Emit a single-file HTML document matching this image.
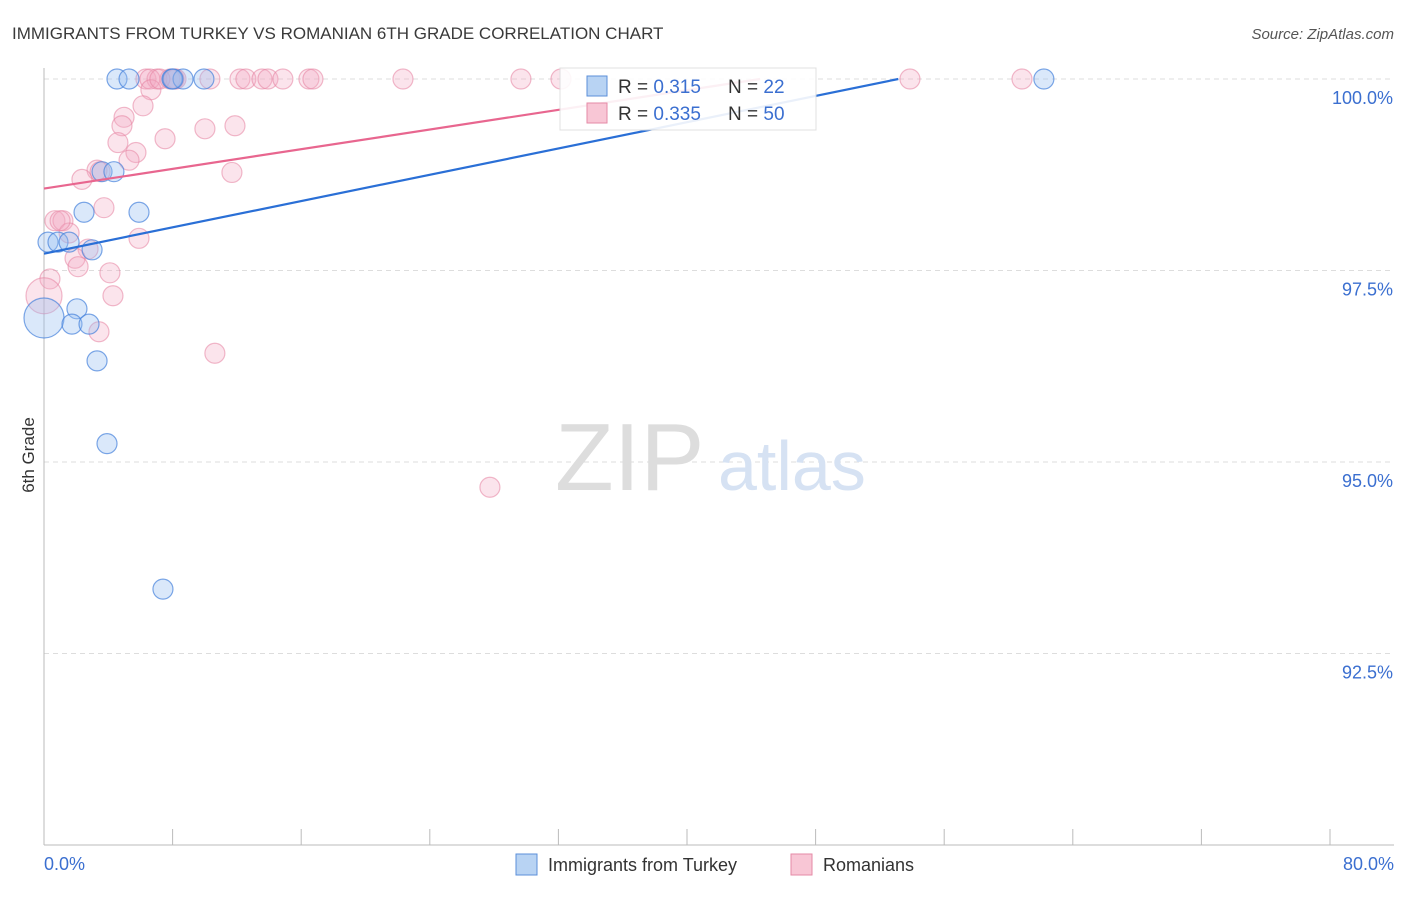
<!DOCTYPE html>
<html><head><meta charset="utf-8"><style>
body{margin:0;background:#fff;font-family:"Liberation Sans",sans-serif;}
svg text{font-family:"Liberation Sans",sans-serif;}
</style></head><body>
<svg id="chart" width="1406" height="892">
<text x="12" y="39" font-size="17" fill="#3a3a3a">IMMIGRANTS FROM TURKEY VS ROMANIAN 6TH GRADE CORRELATION CHART</text>
<text x="1394" y="39" font-size="15" fill="#555" font-style="italic" text-anchor="end">Source: ZipAtlas.com</text>
<g id="grid"></g>
<text x="34" y="455" font-size="17" fill="#333" transform="rotate(-90 34 455)" text-anchor="middle">6th Grade</text>
<text x="555" y="490" font-size="96" fill="#ddd" font-family="Liberation Serif">ZIP</text>
<text x="718" y="490" font-size="70" fill="#d6e2f3">atlas</text>
<g id="axes"></g>
<g id="pts"></g>
<g id="lines"></g>
<g>
<rect x="560" y="68" width="256" height="62" fill="#fff" stroke="#ddd" opacity="0.9"/>
<rect x="587" y="76" width="20" height="20" fill="#b8d3f3" stroke="#5b8fd9"/>
<rect x="587" y="103" width="20" height="20" fill="#f8c6d5" stroke="#e58aa6"/>
<text x="618" y="93" font-size="19" fill="#333">R = <tspan fill="#3b6fd0">0.315</tspan></text>
<text x="728" y="93" font-size="19" fill="#333">N = <tspan fill="#3b6fd0">22</tspan></text>
<text x="618" y="120" font-size="19" fill="#333">R = <tspan fill="#3b6fd0">0.335</tspan></text>
<text x="728" y="120" font-size="19" fill="#333">N = <tspan fill="#3b6fd0">50</tspan></text>
</g>
<g>
<rect x="516" y="854" width="21" height="21" fill="#b8d3f3" stroke="#5b8fd9"/>
<text x="548" y="871" font-size="18" fill="#333">Immigrants from Turkey</text>
<rect x="791" y="854" width="21" height="21" fill="#f8c6d5" stroke="#e58aa6"/>
<text x="823" y="871" font-size="18" fill="#333">Romanians</text>
</g>
</svg>
<script>
const yTicks=[100,97.5,95,92.5];
const yTickLabels=["100.0%","97.5%","95.0%","92.5%"];
const xLabels=["0.0%","80.0%"];
const blueX=[4.54,5.29,7.96,8.65,9.95,62.2,3.61,4.35,2.49,5.91,0.25,0.87,1.56,2.99,0,2.05,1.74,2.80,3.30,3.92,7.40,8.02];
const blueY=[100,100,100,100,100,100,98.79,98.79,98.26,98.26,97.87,97.87,97.87,97.77,96.88,97.0,96.80,96.80,96.32,95.24,93.34,100];
const pinkX=[6.34,7.03,7.84,8.21,10.32,12.19,12.56,13.56,13.93,14.86,16.48,16.73,22.33,29.67,32.16,53.87,60.84,6.59,8.09,
6.65,6.16,4.98,4.85,4.6,10.01,11.88,7.53,5.72,5.29,3.3,2.36,11.69,3.73,0.68,1.18,1.56,2.74,1.93,2.12,4.1,4.29,5.91,0.37,0,3.42,10.63,27.74,3.49,7.21,1.0];
const pinkY=[100,100,100,100,100,100,100,100,100,100,100,100,100,100,100,100,100,100,100,
99.86,99.65,99.50,99.39,99.17,99.35,99.39,99.22,99.04,98.94,98.81,98.69,98.78,98.32,98.15,98.15,97.99,97.78,97.66,97.55,97.47,97.17,97.92,97.39,97.17,96.70,96.42,94.67,98.79,100,98.15];
const pinkR=[];for(let i=0;i<pinkX.length;i++)pinkR.push(i===43?18:10);
const blueR=[];for(let i=0;i<blueX.length;i++)blueR.push(i===14?20:10);
const blueFit=[97.72,0.0429];
const pinkFit=[98.57,0.0321];
const sx=v=>44+v/80*1286, sy=v=>79+(100-v)*76.6;
const NS="http://www.w3.org/2000/svg";
function mk(t,a,p){const e=document.createElementNS(NS,t);for(const k in a)e.setAttribute(k,a[k]);p.appendChild(e);return e;}
const grid=document.getElementById('grid'),axes=document.getElementById('axes'),pts=document.getElementById('pts'),lines=document.getElementById('lines');
yTicks.forEach((v,i)=>{
 const l=mk('line',{x1:44,x2:1394,y1:sy(v),y2:sy(v),stroke:'#ddd','stroke-dasharray':'5,4'},grid);
 
 
 const t=mk('text',{x:1393,y:sy(v)+25,'font-size':18,fill:'#3b6fd0','text-anchor':'end'},axes);
 t.textContent=yTickLabels[i];
 
 
});
const ya=mk('line',{x1:44,x2:44,y1:68,y2:845,stroke:'#bbb'},axes);


const xa=mk('line',{x1:44,x2:1394,y1:845,y2:845,stroke:'#bbb'},axes);


for(let i=0;i<=10;i++){
 const t=mk('line',{x1:sx(i*8),x2:sx(i*8),y1:829,y2:845,stroke:'#bbb'},axes);
 
 
}
const xl0=mk('text',{x:44,y:870,'font-size':18,fill:'#3b6fd0'},axes);xl0.textContent=xLabels[0];


const xl1=mk('text',{x:1394,y:870,'font-size':18,fill:'#3b6fd0','text-anchor':'end'},axes);xl1.textContent=xLabels[1];


pinkX.forEach((x,i)=>{
 const c=mk('circle',{cx:sx(x),cy:sy(pinkY[i]),r:pinkR[i],fill:'rgba(244,170,195,0.32)',stroke:'rgba(230,130,160,0.55)','stroke-width':1.2},pts);
 
 
});
blueX.forEach((x,i)=>{
 const c=mk('circle',{cx:sx(x),cy:sy(blueY[i]),r:blueR[i],fill:'rgba(150,190,240,0.35)',stroke:'rgba(70,130,220,0.7)','stroke-width':1.2},pts);
 
 
});
function fitLine(f,col,name){
 const xe=Math.min(80,(100-f[0])/f[1]);
 const l=mk('line',{x1:sx(0),y1:sy(f[0]),x2:sx(xe),y2:sy(f[0]+f[1]*xe),stroke:col,'stroke-width':2.2},lines);
 
 
}
fitLine(pinkFit,'#e8668f','romanians-trend-line');
fitLine(blueFit,'#2a6fd6','turkey-trend-line');
</script>
</body></html>
